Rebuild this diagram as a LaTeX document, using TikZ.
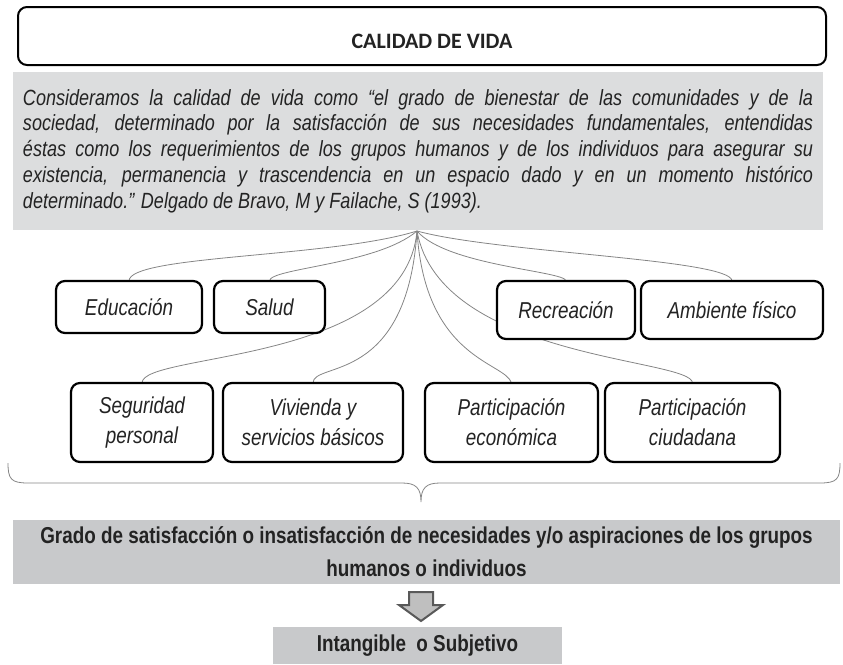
\documentclass[tikz,border=0pt]{standalone}
\usepackage{fontspec}
\setmainfont{Liberation Sans}
\newfontfamily\narrowfont[FakeStretch=0.82]{Liberation Sans}
\newfontfamily\titlefont{Carlito}
\definecolor{quotegray}{HTML}{DCDDDE}
\definecolor{bargray}{HTML}{C8C9CB}
\definecolor{linkgray}{HTML}{858585}
\definecolor{inkgray}{HTML}{232323}
\hbadness=10000

\begin{document}
\begin{tikzpicture}[x=1pt,y=-1pt,
  topic/.style={draw,line width=2.2pt,rounded corners=9pt,fill=white,inner sep=0pt,align=center,text=inkgray,font=\narrowfont\itshape\fontsize{23}{30}\selectfont},
  link/.style={draw=linkgray,line width=0.8pt},
  band/.style={fill=bargray,inner sep=0pt,align=center,text=inkgray,font=\narrowfont\bfseries\fontsize{23}{33}\selectfont}]
\useasboundingbox (0,0) rectangle (843,664);

\node[draw,line width=2pt,rounded corners=9pt,minimum width=808pt,minimum height=58pt,text height=24pt,text depth=0pt,inner sep=0pt,text=inkgray,font=\titlefont\bfseries\fontsize{22}{26}\selectfont] (title) at (422,36) {\hspace*{20pt}CALIDAD DE VIDA};
\node[fill=quotegray,minimum width=810pt,minimum height=158pt,text width=790pt,align=justify,inner sep=0pt,text=inkgray,font=\narrowfont\itshape\fontsize{22}{25.8}\selectfont] (quote) at (418,151)
  {Consideramos la calidad de vida como “el grado de bienestar de las comunidades y de la\linebreak
   sociedad, determinado por la satisfacción de sus necesidades fundamentales, entendidas\linebreak
   éstas como los requerimientos de los grupos humanos y de los individuos para asegurar su\linebreak
   existencia, permanencia y trascendencia en un espacio dado y en un momento histórico\linebreak
   determinado.” Delgado de Bravo, M y Failache, S (1993).};
\coordinate (hub) at (417,231);

\draw[link] (hub) .. controls +(-87,27) and +(0,-26) .. (129,281);
\draw[link] (hub) .. controls +(-40,34) and +(0,-13) .. (269.5,281);
\draw[link] (hub) .. controls +(30,35) and +(0,-10) .. (566,281);
\draw[link] (hub) .. controls +(80,22) and +(0,-22) .. (732,281);
\draw[link] (hub) .. controls +(-12,134) and +(0,-31) .. (142,383);
\draw[link] (hub) .. controls +(-10,155) and +(0,-22) .. (313,383);
\draw[link] (hub) .. controls +(8,129) and +(-6,-21) .. (511.5,383);
\draw[link] (hub) .. controls +(23,129) and +(0,-25) .. (692.5,383);

\node[topic,minimum width=146pt,minimum height=52pt] (educ) at (129,307) {Educación};
\node[topic,minimum width=111pt,minimum height=52pt] (salud) at (269.5,307) {Salud};
\node[topic,minimum width=138pt,minimum height=58pt] (recre) at (566,310) {Recreación};
\node[topic,minimum width=182pt,minimum height=58pt] (amb) at (732,310) {Ambiente físico};
\node[topic,minimum width=142pt,minimum height=79pt] (segu) at (142,422.5) {Seguridad\\personal};
\node[topic,minimum width=180pt,minimum height=79pt] (vivi) at (313,422.5) {Vivienda y\\servicios básicos};
\node[topic,minimum width=173pt,minimum height=79pt] (peco) at (511.5,422.5) {Participación\\económica};
\node[topic,minimum width=175pt,minimum height=79pt] (pciu) at (692.5,422.5) {Participación\\ciudadana};

\draw[link] (8,463) .. controls (8,479) and (11,483) .. (28,483) -- (402,483)
  .. controls (416,483) and (421,488) .. (421,502)
  .. controls (421,488) and (426,483) .. (440,483) -- (820,483)
  .. controls (837,483) and (840,479) .. (840,463);

\node[band,minimum width=827pt,minimum height=64pt] (grado) at (426.5,552)
  {Grado de satisfacción o insatisfacción de necesidades y/o aspiraciones de los grupos\\humanos o individuos};
\draw[fill=black!25,draw=black!65,line width=2pt,line join=miter] (409,592) -- (433,592) -- (433,605) -- (443,605)
  -- (421,621) -- (399,605) -- (409,605) -- cycle;
\node[band,minimum width=289pt,minimum height=37pt] (intan) at (417.5,645.5) {Intangible~~o Subjetivo};
\end{tikzpicture}
\end{document}
